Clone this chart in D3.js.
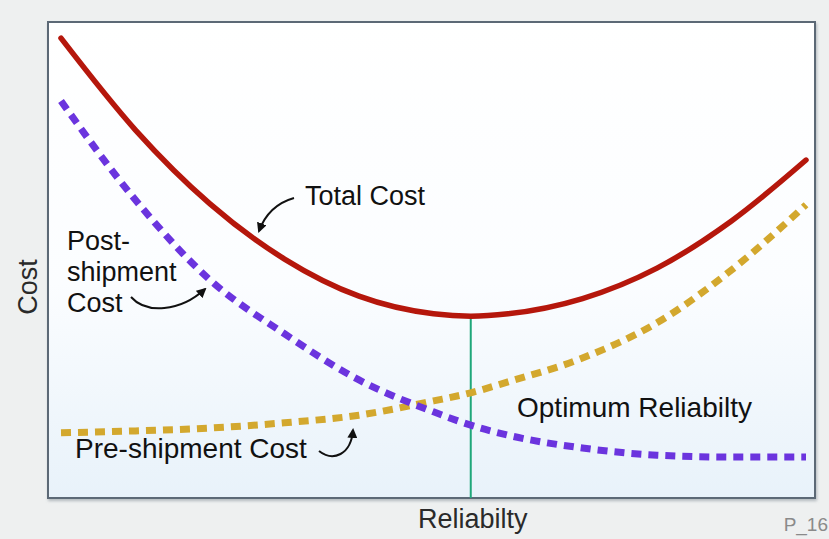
<!DOCTYPE html>
<html>
<head>
<meta charset="utf-8">
<script src="https://cdn.jsdelivr.net/npm/d3@7"></script>
<style>
  html, body { margin: 0; padding: 0; background: #eef0f0; }
  svg { display: block; font-family: "Liberation Sans", Arial, Helvetica, sans-serif; }
</style>
</head>
<body>
<svg id="chart" width="829" height="539"></svg>
<script>
// reliability positions (0 = low, 100 = high)
const reliability = [0, 10, 20, 30, 40, 50, 55, 60, 70, 80, 90, 100];
const totalCost = [96.6, 77.3, 61.8, 50.2, 42.4, 38.7, 38.2, 38.7, 41.9, 48.3, 58.2, 71.0];
const postShipmentCost = [83.4, 62.6, 45.8, 34.5, 24.8, 18.1, 15.3, 13.2, 10.5, 9.0, 8.6, 8.6];
const preShipmentCost = [13.7, 14.1, 14.7, 15.8, 17.4, 20.4, 22.1, 24.4, 29.4, 36.8, 47.9, 61.6];
const optimumReliability = 55;

const svg = d3.select("#chart");
const frame = {left: 48, top: 22, right: 815, bottom: 498};

const x = d3.scaleLinear().domain([0, 100]).range([61, 806]);
const y = d3.scaleLinear().domain([0, 100]).range([frame.bottom, frame.top]);

let defs = svg.append("defs");
let grad = defs.append("linearGradient")
    .attr("id", "bg")
    .attr("x1", 0).attr("y1", 0).attr("x2", 0).attr("y2", 1);
grad.append("stop").attr("offset", "0%").attr("stop-color", "#ffffff");
grad.append("stop").attr("offset", "55%").attr("stop-color", "#fbfdff");
grad.append("stop").attr("offset", "100%").attr("stop-color", "#e8f2fa");

defs.append("filter").attr("id", "shadow")
    .attr("x", "-5%").attr("y", "-5%").attr("width", "110%").attr("height", "110%")
    .append("feDropShadow")
    .attr("dx", 1).attr("dy", 2).attr("stdDeviation", 1.5)
    .attr("flood-color", "#8a949c").attr("flood-opacity", 0.6);

defs.append("marker")
    .attr("id", "arrow")
    .attr("viewBox", "0 0 10 10")
    .attr("refX", 8).attr("refY", 5)
    .attr("markerWidth", 5).attr("markerHeight", 5)
    .attr("orient", "auto")
    .append("path")
    .attr("d", "M0,0 L10,5 L0,10 z")
    .attr("fill", "#111");

// plot frame
svg.append("rect")
    .attr("x", frame.left)
    .attr("y", frame.top)
    .attr("width", frame.right - frame.left)
    .attr("height", frame.bottom - frame.top)
    .attr("fill", "url(#bg)")
    .attr("stroke", "#5c6976")
    .attr("stroke-width", 2)
    .attr("filter", "url(#shadow)");

function seriesLine(values) {
    return d3.line()
        .x((d, i) => x(reliability[i]))
        .y(d => y(d))
        .curve(d3.curveMonotoneX)(values);
}

// optimum marker
let optIdx = reliability.indexOf(optimumReliability);
svg.append("line")
    .attr("x1", x(optimumReliability)).attr("x2", x(optimumReliability))
    .attr("y1", y(totalCost[optIdx])).attr("y2", frame.bottom)
    .attr("stroke", "#1fa77a")
    .attr("stroke-width", 2);

svg.append("path")
    .attr("d", seriesLine(preShipmentCost))
    .attr("fill", "none")
    .attr("stroke", "#d3a82e")
    .attr("stroke-width", 7)
    .attr("stroke-dasharray", "10 7");

svg.append("path")
    .attr("d", seriesLine(postShipmentCost))
    .attr("fill", "none")
    .attr("stroke", "#6b34de")
    .attr("stroke-width", 7)
    .attr("stroke-dasharray", "10 7");

svg.append("path")
    .attr("d", seriesLine(totalCost))
    .attr("fill", "none")
    .attr("stroke", "#b5170c")
    .attr("stroke-width", 5.5)
    .attr("stroke-linecap", "round");

// labels
const labelStyle = (sel, size) => sel.attr("font-size", size || 27).attr("fill", "#111");

svg.append("text").attr("x", 305).attr("y", 205).text("Total Cost").call(labelStyle, 27);

let post = svg.append("text").attr("x", 67).attr("y", 250).call(labelStyle, 27);
["Post-", "shipment", "Cost"].forEach((t, i) => {
    post.append("tspan").attr("x", 67).attr("dy", i === 0 ? 0 : 31).text(t);
});

svg.append("text").attr("x", 75).attr("y", 458).text("Pre-shipment Cost").call(labelStyle, 28);
svg.append("text").attr("x", 517).attr("y", 417).text("Optimum Reliabilty").call(labelStyle, 28);

svg.append("text")
    .attr("transform", "translate(37," + ((frame.top + frame.bottom) / 2 + 27) + ") rotate(-90)")
    .attr("text-anchor", "middle")
    .attr("font-size", 27)
    .attr("fill", "#2a2a2a")
    .text("Cost");

svg.append("text")
    .attr("x", x(optimumReliability) + 2)
    .attr("y", 528)
    .attr("text-anchor", "middle")
    .attr("font-size", 27)
    .attr("fill", "#2a2a2a")
    .text("Reliabilty");

svg.append("text")
    .attr("x", 828).attr("y", 531)
    .attr("text-anchor", "end")
    .attr("font-size", 19)
    .attr("fill", "#8a8a8a")
    .text("P_16");

// curved pointer arrows
const arrows = [
    "M294,198 C280,202 266,212 259,231",
    "M131,297 C146,314 180,312 205,289",
    "M319,451 C333,462 351,455 353,430"
];
svg.selectAll(".pointer")
    .data(arrows)
    .enter().append("path")
    .attr("class", "pointer")
    .attr("d", d => d)
    .attr("fill", "none")
    .attr("stroke", "#111")
    .attr("stroke-width", 2)
    .attr("marker-end", "url(#arrow)");
</script>
</body>
</html>
